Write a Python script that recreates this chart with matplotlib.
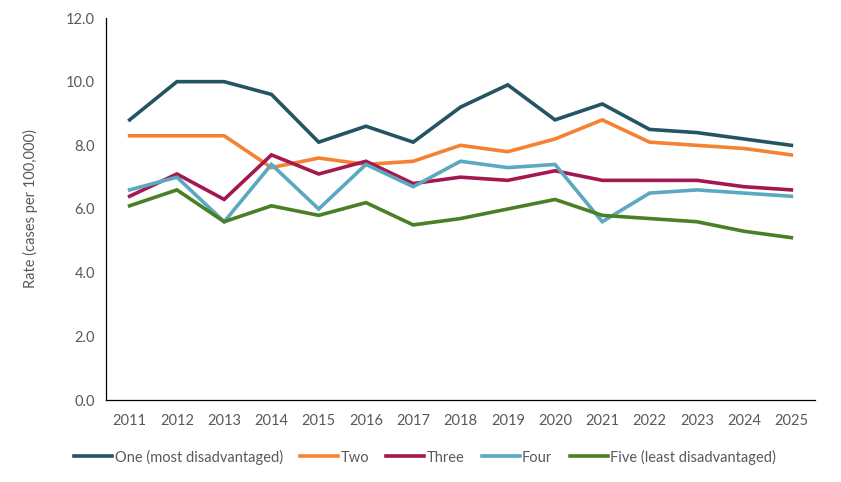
import matplotlib
matplotlib.use("Agg")
import matplotlib.pyplot as plt

years = ["2011", "2012", "2013", "2014", "2015", "2016", "2017", "2018", "2019", "2020",
         "2021", "2022", "2023", "2024", "2025"]
one = [8.8, 10.0, 10.0, 9.6, 8.1, 8.6, 8.1, 9.2, 9.9, 8.8, 9.3, 8.5, 8.4, 8.2, 8.0]
two = [8.3, 8.3, 8.3, 7.3, 7.6, 7.4, 7.5, 8.0, 7.8, 8.2, 8.8, 8.1, 8.0, 7.9, 7.7]
three = [6.4, 7.1, 6.3, 7.7, 7.1, 7.5, 6.8, 7.0, 6.9, 7.2, 6.9, 6.9, 6.9, 6.7, 6.6]
four = [6.6, 7.0, 5.6, 7.4, 6.0, 7.4, 6.7, 7.5, 7.3, 7.4, 5.6, 6.5, 6.6, 6.5, 6.4]
five = [6.1, 6.6, 5.6, 6.1, 5.8, 6.2, 5.5, 5.7, 6.0, 6.3, 5.8, 5.7, 5.6, 5.3, 5.1]

series_names = ["One (most disadvantaged)", "Two", "Three", "Four", "Five (least disadvantaged)"]
colors = ["#235563", "#F58233", "#A5184F", "#5BA8C0", "#4A8025"]

plt.rcParams['font.family'] = ['Lato', 'DejaVu Sans']

fig = plt.figure(figsize=(8.41, 4.82), dpi=100)
ax = fig.add_axes([106/841, 1-400/482, (815-106)/841, (400-18)/482])

x = list(range(len(years)))
for data, name, c in zip([one, two, three, four, five], series_names, colors):
    ax.plot(x, data, color=c, lw=2.6, label=name, solid_joinstyle='miter')

ax.set_xlim(-0.5, len(years) - 0.5)
ax.set_ylim(0, 12)
ax.set_yticks([0, 2, 4, 6, 8, 10, 12])
ax.set_yticklabels([f"{v:.1f}" for v in [0, 2, 4, 6, 8, 10, 12]])
ax.set_xticks(x)
ax.set_xticklabels(years)
ax.tick_params(axis='both', length=0, labelsize=10.5, colors="#595959")
ax.tick_params(axis='x', pad=10)
ax.tick_params(axis='y', pad=8)
for s in ["top", "right"]:
    ax.spines[s].set_visible(False)
ax.spines["left"].set_color("#000000")
ax.spines["bottom"].set_color("#000000")
ax.spines["left"].set_linewidth(0.9)
ax.spines["bottom"].set_linewidth(0.9)

ax.set_ylabel("Rate (cases per 100,000)", fontsize=10.5, color="#595959", labelpad=20)

fig.legend(loc="center", bbox_to_anchor=(425/841, 1-457/482), ncol=5, frameon=False,
           fontsize=10.5, labelcolor="#595959", handlelength=2.6, handletextpad=0.15,
           columnspacing=1.2)

fig.savefig("out.png", dpi=100)
